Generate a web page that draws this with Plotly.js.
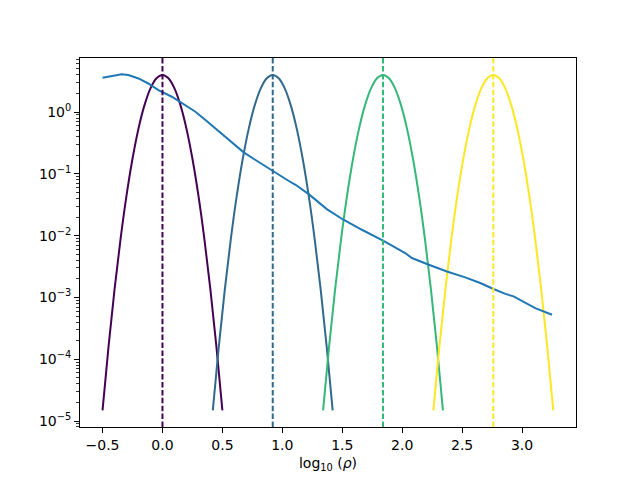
<!DOCTYPE html>
<html>
<head>
<meta charset="utf-8">
<script src="https://cdn.plot.ly/plotly-3.0.1.min.js"></script>
<style>html,body{margin:0;padding:0;background:#fff;}#chart{width:640px;height:480px;}</style>
</head>
<body>
<div id="chart"></div>
<script>
// Blue density curve
const densityX = [-0.5, -0.41, -0.34, -0.285, -0.2, -0.118, -0.034, 0.078, 0.189, 0.272, 0.356, 0.439,
  0.523, 0.62, 0.675, 0.773, 0.926, 1.051, 1.11, 1.22, 1.371, 1.51, 1.664, 1.844, 2.025, 2.081, 2.206,
  2.373, 2.526, 2.651, 2.762, 2.86, 2.929, 3.013, 3.11, 3.25];
const densityY = [3.6, 3.85, 4.1, 3.97, 3.5, 2.9, 2.27, 1.77, 1.31, 1.02, 0.75, 0.551,
  0.403, 0.277, 0.225, 0.169, 0.109, 0.0773, 0.0666, 0.047, 0.0269, 0.0181, 0.01245, 0.00826, 0.00523, 0.00434, 0.00347,
  0.00263, 0.00211, 0.00171, 0.00137, 0.00114, 0.00104, 0.00086, 0.00067, 0.000525];

// Gaussian bump shape: offsets from centre and values
const bumpOffsets = [-0.5, -0.45, -0.4, -0.35, -0.3, -0.25, -0.2, -0.15, -0.1, -0.05, 0,
  0.05, 0.1, 0.15, 0.2, 0.25, 0.3, 0.35, 0.4, 0.45, 0.5];
const bumpValues = [1.48672e-5, 1.59837e-4, 0.0013383, 0.00872683, 0.0443185, 0.175283, 0.53991, 1.29518, 2.41971, 3.52065, 3.98942,
  3.52065, 2.41971, 1.29518, 0.53991, 0.175283, 0.0443185, 0.00872683, 0.0013383, 1.59837e-4, 1.48672e-5];
const centers = [0.0, 0.92, 1.84, 2.76];
const bumpColors = ['#440154', '#31688e', '#35b779', '#fde725'];

const xTickVals = [-0.5, 0, 0.5, 1.0, 1.5, 2.0, 2.5, 3.0];
const xTickText = ['\u22120.5', '0.0', '0.5', '1.0', '1.5', '2.0', '2.5', '3.0'];
const yTickVals = [1e-5, 1e-4, 1e-3, 1e-2, 1e-1, 1];
const yTickText = ['10<sup>\u22125</sup>', '10<sup>\u22124</sup>', '10<sup>\u22123</sup>', '10<sup>\u22122</sup>', '10<sup>\u22121</sup>', '10<sup>0</sup>'];

const minorVals = [];
for (let e = -6; e <= 1; e++) for (let m = 2; m <= 9; m++) minorVals.push(m * Math.pow(10, e));

const traces = [];
const shapes = [];
centers.forEach((c, i) => {
  traces.push({
    x: bumpOffsets.map(d => c + d), y: bumpValues, mode: 'lines',
    line: {color: bumpColors[i], width: 2, shape: 'spline'}, hoverinfo: 'skip'
  });
  shapes.push({type: 'line', xref: 'x', yref: 'paper', x0: c, x1: c, y0: 0, y1: 1,
    line: {color: bumpColors[i], width: 2, dash: '5.5px,2.4px'}});
});
traces.push({x: densityX, y: densityY, mode: 'lines', line: {color: '#1f77b4', width: 2}, hoverinfo: 'skip'});

const layout = {
  width: 640, height: 480,
  margin: {l: 80, r: 64, t: 58, b: 53},
  paper_bgcolor: '#fff', plot_bgcolor: '#fff',
  showlegend: false,
  font: {family: 'DejaVu Sans', size: 14, color: '#000'},
  shapes: shapes,
  xaxis: {
    range: [-0.688, 3.45], tickvals: xTickVals, ticktext: xTickText,
    ticks: 'outside', ticklen: 5, tickwidth: 1, tickcolor: '#000',
    showline: true, linecolor: '#000', linewidth: 1, mirror: true,
    showgrid: false, zeroline: false,
    title: {text: 'log<sub>10</sub> (<i>ρ</i>)', font: {size: 14}, standoff: 6}
  },
  yaxis: {
    type: 'log', range: [-5.097, 0.875], tickvals: yTickVals, ticktext: yTickText,
    ticks: 'outside', ticklen: 5, tickwidth: 1, tickcolor: '#000',
    showline: true, linecolor: '#000', linewidth: 1, mirror: true,
    showgrid: false, zeroline: false,
    minor: {tickmode: 'array', tickvals: minorVals, ticks: 'outside', ticklen: 3, tickwidth: 0.8, tickcolor: '#000', showgrid: false}
  }
};

Plotly.newPlot('chart', traces, layout, {staticPlot: true});
</script>
</body>
</html>
